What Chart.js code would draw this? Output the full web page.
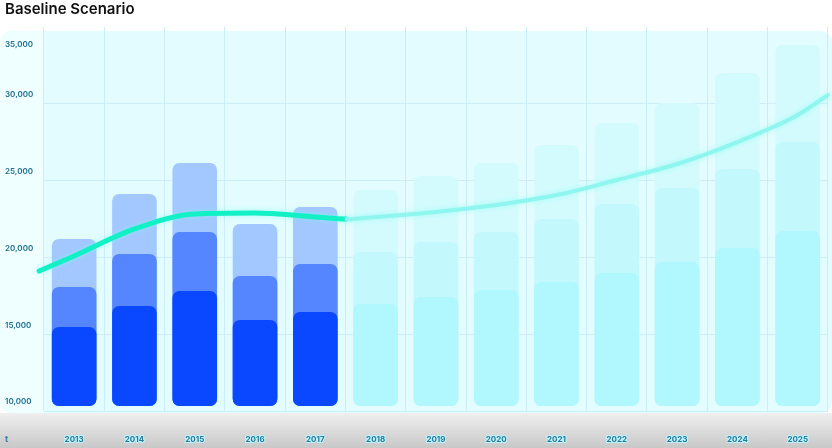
<!DOCTYPE html>
<html>
<head>
<meta charset="utf-8">
<script src="https://cdn.jsdelivr.net/npm/chart.js@4.4.0/dist/chart.umd.min.js"></script>
<style>
    body { margin: 0; background: #fff; }
    #wrap { position: relative; width: 832px; height: 448px; overflow: hidden; }
    .panel { position: absolute; left: 0; top: 31px; width: 832px; height: 382px; border-radius: 12px; background: #e2fcff; }
    .strip { position: absolute; left: 0; top: 31px; width: 44px; height: 382px; border-radius: 12px 0 0 12px; background: #effeff; }
    .floor { position: absolute; left: 0; top: 413px; width: 832px; height: 35px; background: linear-gradient(#efefef, #c8c8c8); }
    .axisTag { position: absolute; left: 5px; top: 434px; font: 700 8px Inter, sans-serif; color: #2b7a98; }
    canvas { position: absolute; left: 0; top: 0; }
</style>
</head>
<body>
<div id="wrap">
    <div class="panel"></div>
    <div class="strip"></div>
    <div class="floor"></div>
    <span class="axisTag">t</span>
    <canvas id="scenarioChart" width="832" height="448"></canvas>
</div>
<script>
// years and how many of them are actuals (rest is forecast)
const years = ['2013', '2014', '2015', '2016', '2017', '2018', '2019', '2020', '2021', '2022', '2023', '2024', '2025'];
const actualCount = 5;

// level reached by each layer of the bars
const baseLevel = [15470, 16840, 17810, 15920, 16450, 16970, 17420, 17880, 18400, 18980, 19700, 20610, 21720];
const midLevel = [18070, 20220, 21650, 18790, 19570, 20350, 21000, 21650, 22500, 23480, 24520, 25760, 27510];
const topLevel = [21200, 24130, 26150, 22170, 23280, 24390, 25300, 26150, 27320, 28750, 30050, 32010, 33830];

// trend line, x in category index units
const trendX = [-0.58, 0, 1, 2, 3, 4, 4.52, 5, 6, 7, 8, 9, 10, 11, 12, 12.5];
const trendY = [19110, 20090, 21850, 22830, 22890, 22630, 22500, 22630, 22960, 23410, 24060, 25040, 26080, 27510, 29270, 30570];
const trendSplit = 4.52;

const yTicks = [10000, 15000, 20000, 25000, 30000, 35000];

const gridColor = '#cdeef8';
const tickColor = '#1f6f8f';
const fontFamily = 'Inter, "Noto Sans", sans-serif';

function barLayer(label, data, actualColor, forecastColor, order) {
    return {
        type: 'bar',
        label: label,
        data: data,
        order: order,
        grouped: false,
        base: 10330,
        borderRadius: 7,
        borderSkipped: false,
        barPercentage: 0.74,
        categoryPercentage: 1,
        backgroundColor: ctx => ctx.dataIndex < actualCount ? actualColor : forecastColor
    };
}

const lineGlow = {
    id: 'lineGlow',
    beforeDatasetDraw(chart, args) {
        if (args.meta.type !== 'line') return;
        const ctx = chart.ctx;
        ctx.save();
        ctx.shadowColor = 'rgba(120, 255, 235, 0.55)';
        ctx.shadowBlur = 5;
    },
    afterDatasetDraw(chart, args) {
        if (args.meta.type !== 'line') return;
        chart.ctx.restore();
    }
};

new Chart(document.getElementById('scenarioChart').getContext('2d'), {
    data: {
        labels: years,
        datasets: [
            {
                type: 'line',
                label: 'Trend',
                data: trendX.map((x, i) => ({ x: x, y: trendY[i] })),
                xAxisID: 'xl',
                order: 0,
                pointRadius: 0,
                cubicInterpolationMode: 'monotone',
                clip: false,
                borderColor: '#12f0c6',
                borderWidth: 5,
                borderCapStyle: 'round',
                segment: {
                    borderColor: ctx => ctx.p0.parsed.x >= trendSplit ? '#8ff6ef' : '#12f0c6',
                    borderWidth: ctx => ctx.p0.parsed.x >= trendSplit ? 4 : 5
                }
            },
            barLayer('Base', baseLevel, '#0a48ff', '#b0f8fd', 1),
            barLayer('Mid', midLevel, '#5686ff', '#c3f9fd', 2),
            barLayer('Top', topLevel, '#a3c8ff', '#d3fbfe', 3)
        ]
    },
    options: {
        responsive: false,
        animation: false,
        layout: { padding: { left: 5, right: 0, top: 0, bottom: 0 } },
        plugins: {
            legend: { display: false },
            tooltip: { enabled: false },
            title: {
                display: true,
                text: 'Baseline Scenario',
                align: 'start',
                color: '#111',
                font: { family: fontFamily, size: 15, weight: '600' },
                padding: { top: 0, bottom: 9 }
            }
        },
        scales: {
            x: {
                type: 'category',
                grid: { color: gridColor, drawTicks: false, offset: true },
                border: { display: false },
                ticks: {
                    color: '#2b7a98',
                    padding: 24,
                    maxRotation: 0,
                    autoSkip: false,
                    textStrokeColor: 'rgba(185, 245, 255, 0.9)',
                    textStrokeWidth: 2,
                    font: { family: fontFamily, size: 8, weight: '700' }
                },
                afterFit: s => { s.height = 37; }
            },
            xl: {
                type: 'linear',
                display: false,
                min: -0.5,
                max: 12.5
            },
            y: {
                min: 10000,
                max: 35000,
                afterBuildTicks: s => { s.ticks = yTicks.map(v => ({ value: v })); },
                grid: {
                    color: ctx => ctx.tick && ctx.tick.value === 35000 ? 'transparent' : gridColor,
                    drawTicks: false
                },
                border: { display: false },
                ticks: {
                    color: tickColor,
                    crossAlign: 'far',
                    padding: 0,
                    labelOffset: -9,
                    autoSkip: false,
                    font: ctx => ({
                        family: fontFamily,
                        size: 8,
                        weight: '600',
                        lineHeight: ctx.tick && ctx.tick.value === 35000 ? '54px' : 1.2
                    }),
                    callback: function(value) {
                        const text = value.toLocaleString('en-US');
                        return value === 35000 ? ['', text] : text;
                    }
                },
                afterFit: s => { s.width = 39; s.paddingTop = 0; s.paddingBottom = 0; }
            }
        }
    },
    plugins: [lineGlow]
});
</script>
</body>
</html>
